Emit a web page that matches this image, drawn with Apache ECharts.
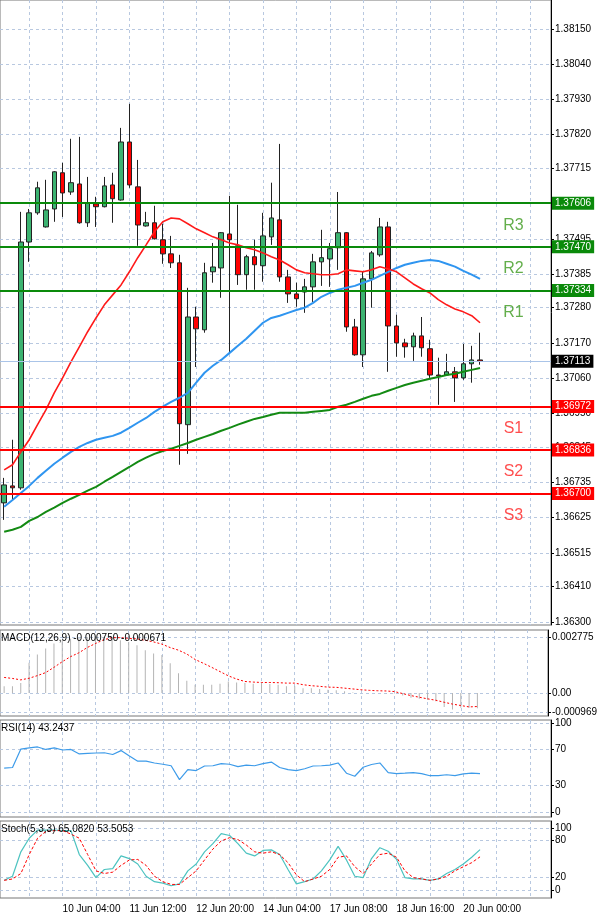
<!DOCTYPE html>
<html><head><meta charset="utf-8">
<script src="https://cdn.jsdelivr.net/npm/echarts@6/dist/echarts.min.js"></script>
<style>html,body{margin:0;padding:0;background:#fff}#c{width:600px;height:916px}</style>
</head><body><div id="c"></div>
<script>
const candleCount = 58, slotCount = 66;
const timeLabels = {7:'10 Jun 04:00',15:'11 Jun 12:00',23:'12 Jun 20:00',31:'14 Jun 04:00',39:'17 Jun 08:00',47:'18 Jun 16:00',55:'20 Jun 00:00'};
// [open, close, low, high]
const ohlc = [
[1.36671,1.36727,1.36618,1.36749],[1.36724,1.36718,1.36680,1.36868],[1.36718,1.37485,1.36712,1.37579],[1.37485,1.37576,1.37423,1.37588],
[1.37576,1.37654,1.37570,1.37673],[1.37532,1.37585,1.37530,1.37679],[1.37588,1.37704,1.37548,1.37706],[1.37701,1.37638,1.37563,1.37732],
[1.37641,1.37670,1.37632,1.37807],[1.37666,1.37545,1.37542,1.37813],[1.37545,1.37607,1.37532,1.37688],[1.37604,1.37595,1.37532,1.37626],
[1.37595,1.37660,1.37593,1.37688],[1.37663,1.37620,1.37545,1.37701],[1.37616,1.37797,1.37614,1.37841],[1.37797,1.37663,1.37654,1.37916],
[1.37657,1.37538,1.37473,1.37741],[1.37535,1.37545,1.37533,1.37579],[1.37545,1.37495,1.37493,1.37598],[1.37492,1.37448,1.37417,1.37542],
[1.37448,1.37420,1.37404,1.37504],[1.37420,1.36918,1.36790,1.37445],[1.36915,1.37251,1.36824,1.37342],[1.37251,1.37214,1.37095,1.37283],
[1.37211,1.37389,1.37202,1.37420],[1.37392,1.37407,1.37358,1.37482],[1.37404,1.37514,1.37311,1.37516],[1.37510,1.37492,1.37139,1.37629],
[1.37473,1.37383,1.37351,1.37601],[1.37383,1.37439,1.37336,1.37445],[1.37439,1.37414,1.37336,1.37492],[1.37411,1.37504,1.37361,1.37576],
[1.37501,1.37560,1.37476,1.37670],[1.37554,1.37376,1.37361,1.37791],[1.37376,1.37323,1.37295,1.37398],[1.37323,1.37308,1.37283,1.37358],
[1.37329,1.37345,1.37264,1.37370],[1.37345,1.37423,1.37298,1.37448],[1.37423,1.37436,1.37348,1.37523],[1.37432,1.37464,1.37345,1.37482],
[1.37467,1.37514,1.37398,1.37641],[1.37514,1.37220,1.37205,1.37516],[1.37220,1.37133,1.37130,1.37245],[1.37133,1.37370,1.37095,1.37392],
[1.37370,1.37451,1.37280,1.37457],[1.37445,1.37532,1.37439,1.37560],[1.37532,1.37223,1.37080,1.37548],[1.37223,1.37170,1.37127,1.37258],
[1.37170,1.37158,1.37124,1.37183],[1.37158,1.37192,1.37114,1.37202],[1.37192,1.37155,1.37127,1.37251],[1.37152,1.37070,1.37061,1.37180],
[1.37070,1.37067,1.36977,1.37124],[1.37070,1.37080,1.37068,1.37136],[1.37080,1.37061,1.36986,1.37095],[1.37061,1.37105,1.37055,1.37167],
[1.37105,1.37117,1.37046,1.37161],[1.37117,1.37113,1.37102,1.37202]];
const maRed = [1.36774,1.36790,1.36830,1.36868,1.36915,1.36961,1.37014,1.37061,1.37111,1.37158,1.37205,1.37248,1.37289,1.37320,1.37351,1.37392,1.37436,1.37476,1.37517,1.37548,1.37560,1.37557,1.37542,1.37526,1.37514,1.37501,1.37492,1.37482,1.37476,1.37467,1.37461,1.37451,1.37439,1.37429,1.37414,1.37398,1.37389,1.37386,1.37383,1.37383,1.37386,1.37398,1.37395,1.37392,1.37398,1.37408,1.37401,1.37392,1.37373,1.37354,1.37339,1.37326,1.37305,1.37289,1.37276,1.37267,1.37255,1.37233];
const maBlue = [1.36659,1.36680,1.36702,1.36724,1.36749,1.36771,1.36793,1.36812,1.36830,1.36846,1.36858,1.36868,1.36874,1.36880,1.36890,1.36905,1.36921,1.36936,1.36955,1.36971,1.36986,1.36999,1.37014,1.37046,1.37077,1.37099,1.37117,1.37139,1.37161,1.37183,1.37208,1.37233,1.37248,1.37255,1.37264,1.37273,1.37280,1.37295,1.37314,1.37326,1.37336,1.37342,1.37348,1.37358,1.37367,1.37379,1.37392,1.37404,1.37414,1.37420,1.37426,1.37429,1.37426,1.37417,1.37408,1.37395,1.37383,1.37370];
const maGreen = [1.36581,1.36587,1.36596,1.36615,1.36627,1.36643,1.36656,1.36671,1.36684,1.36696,1.36709,1.36721,1.36737,1.36752,1.36768,1.36783,1.36799,1.36812,1.36824,1.36833,1.36840,1.36849,1.36858,1.36868,1.36877,1.36886,1.36896,1.36905,1.36915,1.36924,1.36933,1.36939,1.36946,1.36952,1.36952,1.36952,1.36952,1.36955,1.36958,1.36961,1.36971,1.36977,1.36986,1.36996,1.37005,1.37011,1.37021,1.37030,1.37039,1.37046,1.37052,1.37058,1.37064,1.37070,1.37074,1.37080,1.37086,1.37092];
const priceTicks = [1.38150,1.38040,1.37930,1.37820,1.37715,1.37605,1.37495,1.37385,1.37280,1.37170,1.37060,1.36950,1.36845,1.36735,1.36625,1.36515,1.36410,1.36300];
const resistance = [['R1',1.37334],['R2',1.37470],['R3',1.37606]];
const support = [['S1',1.36972],['S2',1.36836],['S3',1.36700]];
const lastPrice = 1.37113;
const macdHist = [0.00033,0.00033,0.00049,0.00150,0.00191,0.00220,0.00245,0.00261,0.00269,0.00274,0.00277,0.00277,0.00277,0.00277,0.00261,0.00253,0.00237,0.00212,0.00196,0.00188,0.00147,0.00098,0.00060,0.00041,0.00041,0.00041,0.00046,0.00057,0.00052,0.00049,0.00046,0.00049,0.00044,0.00041,0.00033,0.00033,0.00024,0.00024,0.00020,0.00016,0.00013,0.00008,0.00003,0,0,0,-0.00003,-0.00003,-0.00013,-0.00024,-0.00029,-0.00033,-0.00041,-0.00069,-0.00082,-0.00073,-0.00073,-0.00075];
const macdSignal = [0.00077,0.00072,0.00065,0.00073,0.00086,0.00101,0.00127,0.00155,0.00180,0.00199,0.00225,0.00245,0.00264,0.00274,0.00274,0.00271,0.00268,0.00261,0.00253,0.00242,0.00225,0.00212,0.00193,0.00166,0.00147,0.00127,0.00106,0.00085,0.00069,0.00057,0.00054,0.00052,0.00052,0.00051,0.00049,0.00049,0.00041,0.00036,0.00033,0.00029,0.00028,0.00024,0.00020,0.00016,0.00013,0.00011,0.00010,0.00007,-0.00003,-0.00013,-0.00021,-0.00029,-0.00036,-0.00046,-0.00055,-0.00062,-0.00069,-0.00067];
const rsi = [49.3,50.0,70.7,72.0,73.1,70.3,72.0,69.7,70.3,65.3,65.9,66.3,66.6,64.6,69.0,62.9,57.1,57.1,55.1,53.7,52.0,36.4,47.6,46.6,51.7,52.0,54.4,53.7,51.0,52.7,52.0,54.4,56.1,50.0,47.6,46.6,48.6,51.7,52.0,52.7,55.1,43.6,40.2,50.3,53.4,55.1,44.2,43.2,43.6,44.2,43.2,40.8,40.8,41.9,40.8,42.9,43.6,43.2];
const stochMain = [15.6,22.2,61.6,83.5,96.6,96.6,96.6,95.8,95.8,57.2,39.7,20.0,33.1,34.4,55.0,50.7,41.9,22.2,13.4,11.2,6.9,9.9,30.9,41.9,61.6,74.7,91.0,87.9,74.7,59.4,55.0,63.8,64.7,57.2,33.1,9.9,13.4,17.8,30.9,48.5,70.4,48.5,22.2,20.0,50.7,68.2,62.5,49.3,20.0,17.8,17.8,15.6,17.8,26.6,33.1,41.9,52.8,65.1];
const stochSignal = [15.6,17.8,26.6,57.2,83.5,94.5,95.8,95.8,90.1,83.5,57.2,30.9,26.6,28.8,39.7,48.5,49.3,39.7,22.2,13.4,9.0,9.0,20.0,30.9,48.5,66.0,79.1,84.4,81.3,72.6,61.6,59.4,61.6,57.2,44.1,24.4,13.4,17.8,22.2,33.1,52.8,55.0,37.5,26.6,41.9,57.2,59.4,52.8,30.9,20.0,17.8,15.6,17.8,22.2,30.9,37.5,44.1,53.5];
const titles = ['MACD(12,26,9) -0.000750 -0.000671','RSI(14) 43.2437','Stoch(5,3,3) 65.0820 53.5053'];

const cats = Array.from({length: slotCount}, (_, i) => timeLabels[i] || '');
const FONT = 'Liberation Sans';
const gridCol = '#b8c8e0';
const grids = [
  {left:0,right:49,top:0,height:625},
  {left:0,right:49,top:630,height:86},
  {left:0,right:49,top:720,height:97},
  {left:0,right:49,top:821,height:77}
];
const xAxes = grids.map((g, gi) => ({
  type:'category', gridIndex:gi, data:cats, boundaryGap:true,
  axisLine:{show:false}, axisTick:{show:false},
  axisLabel: gi===3 ? {show:true, interval:(i,v)=>v!=='', align:'left', margin:6, fontSize:10, fontFamily:FONT, color:'#000', hideOverlap:false} : {show:false},
  splitLine:{show:true, alignWithLabel:true, interval:(i)=> i%4===3, lineStyle:{color:gridCol, type:[3,3]}}
}));
function yAx(gi, min, max, vals, fmt) {
  return {type:'value', gridIndex:gi, position:'right', min, max,
    axisLine:{show:true, lineStyle:{color:'#000'}},
    axisTick:{show:true, inside:false, length:3, customValues: vals, lineStyle:{color:'#000'}},
    axisLabel:{customValues: vals, formatter:fmt, fontSize:10, fontFamily:FONT, color:'#000', margin:4},
    splitLine:{show:true, lineStyle:{color:gridCol, type:[3,3]}}
  };
}
const yAxes = [
  yAx(0, 1.36290, 1.38240, priceTicks, v=>v.toFixed(5)),
  yAx(1, -0.00114, 0.00312, [0.002775,0,-0.000969], v=> v===0 ? '0.00' : (v>0 ? '0.002775' : '-0.000969')),
  yAx(2, -5.6, 103.4, [100,70,30,0], v=>String(v)),
  yAx(3, -12.9, 111.3, [100,80,20,0], v=>String(v))
];
const levelLabelStyle = (txt, bg) => ({show:true, position:'end', distance:1, formatter: txt, backgroundColor:bg, color:'#fff', fontSize:10, fontFamily:FONT, padding:[2,3,1,3]});
const levelSeries = (v, col, w) => ({type:'line', xAxisIndex:0, yAxisIndex:0, data:[], symbol:'none', silent:true,
  markLine:{symbol:'none', silent:true, animation:false, precision:5,
    data:[{yAxis:v, lineStyle:{color:col, width:w, type:'solid'}, label: levelLabelStyle(v.toFixed(5), col==='#aac4e8' ? '#000' : col)}]}});

const lvlLabels = resistance.map(r=>({value:[61, r[1]], name:r[0], col:'#3c9a1e'})).concat(support.map(s=>({value:[61, s[1]], name:s[0], col:'#ff2020'})));

const line = (gi, data, color, w, type) => ({type:'line', xAxisIndex:gi, yAxisIndex:gi, data, symbol:'none', silent:true, animation:false,
  lineStyle:{color, width:w, type: type||'solid'}});

const chart = echarts.init(document.getElementById('c'), null, {renderer:'canvas'});
chart.setOption({
  animation:false, backgroundColor:'#fff',
  grid: grids.map(g=>Object.assign({show:true, borderColor:'#777', borderWidth:1, z:0}, g)),
  xAxis: xAxes, yAxis: yAxes,
  series: [
    levelSeries(lastPrice, '#aac4e8', 1),
    ...resistance.map(r=>levelSeries(r[1], '#0a8a0a', 2)),
    ...support.map(s=>levelSeries(s[1], '#ff0000', 2)),
    line(0, maGreen, '#138a13', 2),
    line(0, maBlue, '#2f95f0', 2),
    line(0, maRed, '#ff1a1a', 1.6),
    {type:'candlestick', xAxisIndex:0, yAxisIndex:0, data:ohlc, barWidth:5,
     itemStyle:{color:'#3cb371', color0:'#ff0000', borderColor:'#222', borderColor0:'#222', borderWidth:1}},
    {type:'scatter', xAxisIndex:0, yAxisIndex:0, symbolSize:0, silent:true,
     data: lvlLabels.map(d=>({value:d.value, label:{show:true, formatter:d.name, color:d.col, fontSize:16, fontFamily:FONT, offset:[0,22]}})),
     label:{show:true, position:'inside'}},
    {type:'bar', xAxisIndex:1, yAxisIndex:1, data:macdHist, barWidth:1, itemStyle:{color:'#b4b4b4'}},
    line(1, macdSignal, '#ff0000', 1, [2,2]),
    line(2, rsi, '#3d9be9', 1.2),
    line(3, stochMain, '#4cc3c0', 1.2),
    line(3, stochSignal, '#ff0000', 1, [3,2])
  ],
  graphic: titles.map((t,i)=>({type:'text', left:1, top:[633,723,824][i], z:100,
    style:{text:t, fontSize:10, fontFamily:FONT, fill:'#000'}}))
});
</script></body></html>
